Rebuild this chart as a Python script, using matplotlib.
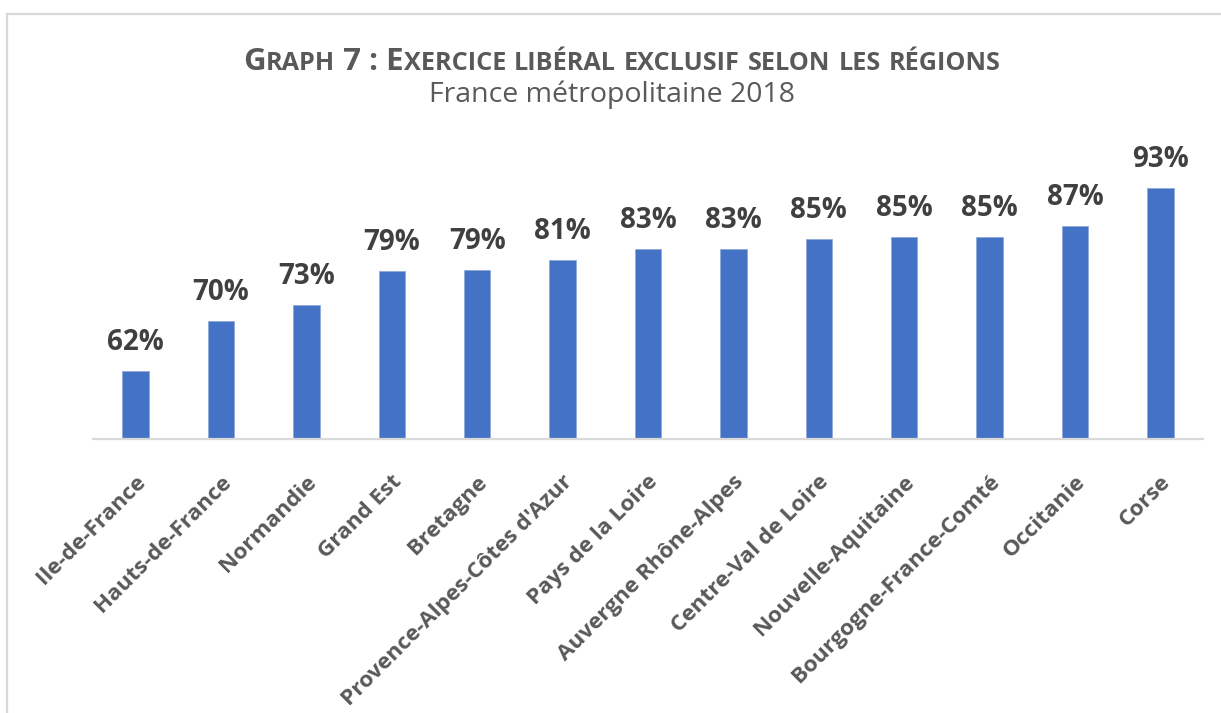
import matplotlib
matplotlib.use("Agg")
import matplotlib.pyplot as plt
from matplotlib.lines import Line2D

regions = ["Ile-de-France", "Hauts-de-France", "Normandie", "Grand Est", "Bretagne",
           "Provence-Alpes-Côtes d'Azur", "Pays de la Loire", "Auvergne Rhône-Alpes",
           "Centre-Val de Loire", "Nouvelle-Aquitaine", "Bourgogne-France-Comté",
           "Occitanie", "Corse"]
values = [61.7, 70.4, 73.1, 79.0, 79.2, 81.0, 82.9, 82.9, 84.6, 84.9, 85.0, 86.9, 93.4]
title_text = "Graph 7 : Exercice libéral exclusif selon les régions"
subtitle_text = "France métropolitaine 2018"

FONT = "Open Sans"
W, H = 1221, 713
fig = plt.figure(figsize=(W / 100, H / 100), dpi=100)
fig.patch.set_facecolor("white")

# outer frame (left and top edges visible)
fig.add_artist(Line2D([7.5 / W, 7.5 / W], [0, 1 - 13.5 / H], transform=fig.transFigure,
                      color="#D9D9D9", lw=1.6))
fig.add_artist(Line2D([7.5 / W, 1], [1 - 13.5 / H, 1 - 13.5 / H], transform=fig.transFigure,
                      color="#D9D9D9", lw=1.6))

ax = fig.add_axes([93 / W, (H - 439) / H, 1110 / W, 289 / H])
x = list(range(len(regions)))
ax.bar(x, values, width=0.31, color="#4472C4", edgecolor="#8FAADC", linewidth=0.6, zorder=2)
ax.set_ylim(50, 100)
ax.set_xlim(-0.5, len(regions) - 0.5)
for s in ["top", "right", "left"]:
    ax.spines[s].set_visible(False)
ax.spines["bottom"].set_color("#D9D9D9")
ax.spines["bottom"].set_linewidth(1.6)
ax.set_yticks([])
ax.set_xticks([])

for xi, v in zip(x, values):
    ax.annotate(f"{round(v)}%", xy=(xi, v), xytext=(0, 14), textcoords="offset pixels",
                ha="center", va="bottom", fontsize=20, fontweight="bold",
                color="#404040", family=FONT)

for xi, name in zip(x, regions):
    ax.annotate(name, xy=(xi, 0), xycoords=ax.get_xaxis_transform(),
                xytext=(7, -40), textcoords="offset pixels",
                ha="right", va="center", rotation=45, rotation_mode="anchor",
                fontsize=16.2, fontweight="bold", color="#595959", family=FONT)

# small-caps title
big, small = 22.5, 18.2
segments = []
cur = ""
cur_big = None
for ch in title_text:
    is_big = not ch.islower()
    if cur_big is None or is_big == cur_big:
        cur += ch
    else:
        segments.append((cur, cur_big))
        cur = ch
    cur_big = is_big
segments.append((cur, cur_big))

renderer = fig.canvas.get_renderer()
texts = []
total = 0
for seg, isb in segments:
    t = fig.text(0, 1 - 70 / H, seg.upper(), fontsize=big if isb else small,
                 fontweight="bold", color="#595959", family=FONT, ha="left", va="baseline")
    bb = t.get_window_extent(renderer)
    texts.append((t, bb.width))
    total += bb.width
xpos = 622 - total / 2
for t, w in texts:
    t.set_x(xpos / W)
    xpos += w

fig.text(612 / W, 1 - 102 / H, subtitle_text, fontsize=20.5, color="#595959",
         family=FONT, ha="center", va="baseline")

fig.savefig("out.png", dpi=100)
